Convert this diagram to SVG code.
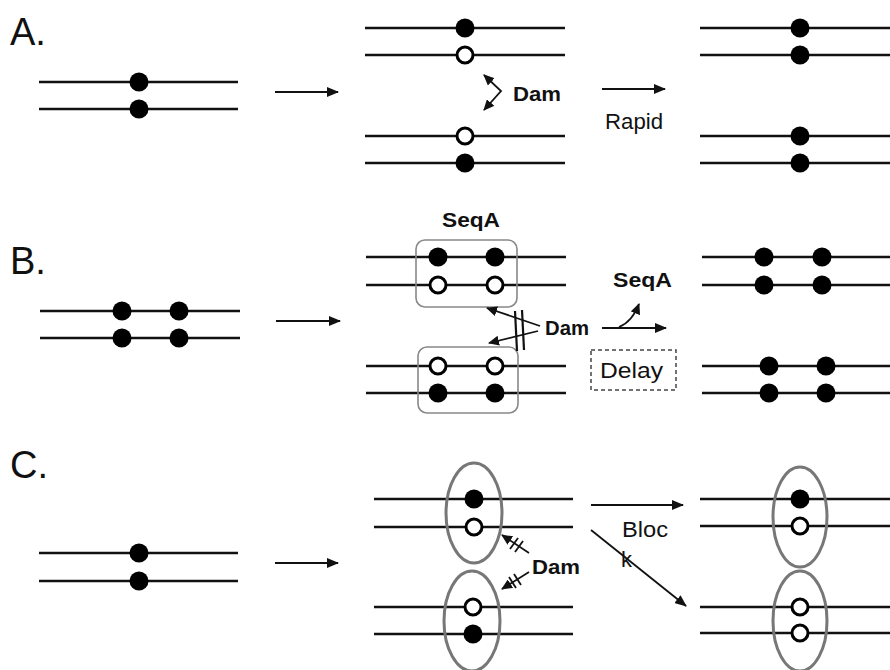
<svg xmlns="http://www.w3.org/2000/svg" width="890" height="670" viewBox="0 0 890 670">
<defs>
<marker id="ah" markerUnits="userSpaceOnUse" markerWidth="12" markerHeight="10" refX="11" refY="5" orient="auto-start-reverse"><path d="M0,0 L12,5 L0,10 Z" fill="#111"/></marker>
<marker id="as" markerUnits="userSpaceOnUse" markerWidth="11" markerHeight="10" refX="10" refY="5" orient="auto-start-reverse"><path d="M0,0 L11,5 L0,10 Z" fill="#111"/></marker>
</defs>
<style>
.s{stroke:#111;stroke-width:2.5;fill:none}
.f{fill:#000}
.o{fill:#fff;stroke:#000;stroke-width:3}
.c{stroke:#111;stroke-width:1.8;fill:none}
.tk{stroke:#111;stroke-width:1.8}
.t{font-family:"Liberation Sans",Arial,sans-serif;fill:#111}
.lab{font-size:38px}
.b{font-weight:bold;font-size:21px}
.r{font-size:22px}
.box{fill:none;stroke:#888;stroke-width:1.6}
.ell{fill:none;stroke:#777;stroke-width:3}
</style>
<rect width="890" height="670" fill="#fff"/>
<!-- labels -->
<text class="t lab" x="10" y="45">A.</text>
<text class="t lab" x="10" y="274">B.</text>
<text class="t lab" x="10" y="478">C.</text>

<!-- Panel A -->
<g id="a-left"><line class="s" x1="39" y1="82" x2="238" y2="82"/><line class="s" x1="39" y1="109" x2="238" y2="109"/><circle class="f" cx="139" cy="82" r="9.5"/><circle class="f" cx="139" cy="109" r="9.5"/></g>
<g id="a-mid-top"><line class="s" x1="365" y1="28" x2="565" y2="28"/><line class="s" x1="365" y1="55" x2="565" y2="55"/><circle class="f" cx="465" cy="28" r="9.5"/><circle class="o" cx="465" cy="55" r="8"/></g>
<g id="a-mid-bot"><line class="s" x1="365" y1="136" x2="565" y2="136"/><line class="s" x1="365" y1="163" x2="565" y2="163"/><circle class="o" cx="465" cy="136" r="8"/><circle class="f" cx="465" cy="163" r="9.5"/></g>
<g id="a-right-top"><line class="s" x1="700" y1="28" x2="890" y2="28"/><line class="s" x1="700" y1="55" x2="890" y2="55"/><circle class="f" cx="800" cy="28" r="9.5"/><circle class="f" cx="800" cy="55" r="9.5"/></g>
<g id="a-right-bot"><line class="s" x1="700" y1="136" x2="890" y2="136"/><line class="s" x1="700" y1="163" x2="890" y2="163"/><circle class="f" cx="800" cy="136" r="9.5"/><circle class="f" cx="800" cy="163" r="9.5"/></g>
<text class="t b" x="513" y="101" textLength="48" lengthAdjust="spacingAndGlyphs">Dam</text>
<text class="t r" x="605" y="129" textLength="58" lengthAdjust="spacingAndGlyphs">Rapid</text>

<!-- Panel B -->
<text class="t b" x="442" y="227" textLength="58" lengthAdjust="spacingAndGlyphs">SeqA</text>
<g id="b-left"><line class="s" x1="40" y1="311" x2="240" y2="311"/><line class="s" x1="40" y1="338" x2="240" y2="338"/><circle class="f" cx="122" cy="311" r="9.5"/><circle class="f" cx="179" cy="311" r="9.5"/><circle class="f" cx="122" cy="338" r="9.5"/><circle class="f" cx="179" cy="338" r="9.5"/></g>
<g id="b-mid-top"><line class="s" x1="366" y1="257" x2="566" y2="257"/><line class="s" x1="366" y1="285" x2="566" y2="285"/><circle class="f" cx="438" cy="257" r="9.5"/><circle class="f" cx="495" cy="257" r="9.5"/><circle class="o" cx="438" cy="285" r="8"/><circle class="o" cx="495" cy="285" r="8"/><rect class="box" x="416" y="240" width="101" height="67" rx="9"/></g>
<g id="b-mid-bot"><line class="s" x1="366" y1="366" x2="566" y2="366"/><line class="s" x1="366" y1="393" x2="566" y2="393"/><circle class="o" cx="438" cy="366" r="8"/><circle class="o" cx="495" cy="366" r="8"/><circle class="f" cx="438" cy="393" r="9.5"/><circle class="f" cx="495" cy="393" r="9.5"/><rect class="box" x="418" y="347" width="100" height="66" rx="9"/></g>
<g id="b-right-top"><line class="s" x1="702" y1="257" x2="890" y2="257"/><line class="s" x1="702" y1="285" x2="890" y2="285"/><circle class="f" cx="764" cy="257" r="9.5"/><circle class="f" cx="822" cy="257" r="9.5"/><circle class="f" cx="764" cy="285" r="9.5"/><circle class="f" cx="822" cy="285" r="9.5"/></g>
<g id="b-right-bot"><line class="s" x1="702" y1="366" x2="890" y2="366"/><line class="s" x1="702" y1="393" x2="890" y2="393"/><circle class="f" cx="769" cy="366" r="9.5"/><circle class="f" cx="826" cy="366" r="9.5"/><circle class="f" cx="769" cy="393" r="9.5"/><circle class="f" cx="826" cy="393" r="9.5"/></g>
<text class="t b" x="545" y="335" textLength="44" lengthAdjust="spacingAndGlyphs">Dam</text>
<text class="t b" x="613" y="287" textLength="59" lengthAdjust="spacingAndGlyphs">SeqA</text>
<g id="b-delay"><rect x="591" y="350" width="85" height="40" fill="none" stroke="#444" stroke-width="1.5" stroke-dasharray="4 3"/><text class="t r" x="600" y="378" textLength="63" lengthAdjust="spacingAndGlyphs">Delay</text></g>

<!-- Panel C -->
<g id="c-left"><line class="s" x1="39" y1="553" x2="238" y2="553"/><line class="s" x1="39" y1="581" x2="238" y2="581"/><circle class="f" cx="139" cy="553" r="9.5"/><circle class="f" cx="139" cy="581" r="9.5"/></g>
<g id="c-mid-top"><line class="s" x1="374" y1="499" x2="573" y2="499"/><line class="s" x1="374" y1="527" x2="573" y2="527"/><circle class="f" cx="474" cy="499" r="9.5"/><circle class="o" cx="474" cy="527" r="8"/><ellipse class="ell" cx="474" cy="513" rx="28" ry="50"/></g>
<g id="c-mid-bot"><line class="s" x1="374" y1="607" x2="573" y2="607"/><line class="s" x1="374" y1="634" x2="573" y2="634"/><circle class="o" cx="473" cy="607" r="8"/><circle class="f" cx="473" cy="634" r="9.5"/><ellipse class="ell" cx="472" cy="621" rx="28" ry="50"/></g>
<g id="c-right-top"><line class="s" x1="700" y1="499" x2="890" y2="499"/><line class="s" x1="700" y1="526" x2="890" y2="526"/><circle class="f" cx="800" cy="499" r="9.5"/><circle class="o" cx="800" cy="526" r="8"/><ellipse class="ell" cx="800" cy="517" rx="27" ry="50"/></g>
<g id="c-right-bot"><line class="s" x1="700" y1="607" x2="890" y2="607"/><line class="s" x1="700" y1="633" x2="890" y2="633"/><circle class="o" cx="800" cy="607" r="8"/><circle class="o" cx="800" cy="633" r="8"/><ellipse class="ell" cx="800" cy="621" rx="27" ry="50"/></g>
<text class="t b" x="532" y="574" textLength="48" lengthAdjust="spacingAndGlyphs">Dam</text>
<text class="t r" x="622" y="537" textLength="46" lengthAdjust="spacingAndGlyphs">Bloc</text>
<text class="t r" x="621" y="567">k</text>

<!-- connectors -->
<g id="connectors">
<line class="c" x1="275" y1="92" x2="338" y2="92" marker-end="url(#ah)"/>
<polyline class="c" points="484,75 501,91 484,110" stroke-width="1.6" marker-start="url(#as)" marker-end="url(#as)"/>
<line class="c" x1="602" y1="89" x2="665" y2="89" marker-end="url(#ah)"/>

<line class="c" x1="276" y1="321" x2="340" y2="321" marker-end="url(#ah)"/>
<line class="c" x1="540" y1="326" x2="487" y2="308" stroke-width="1.6" marker-end="url(#as)"/>
<line class="c" x1="538" y1="331" x2="489" y2="343" stroke-width="1.6" marker-end="url(#as)"/>
<line x1="515" y1="311" x2="517" y2="351" stroke="#111" stroke-width="2.2"/>
<line x1="522" y1="310" x2="524" y2="350" stroke="#111" stroke-width="2.2"/>
<line class="c" x1="602" y1="328" x2="666" y2="328" marker-end="url(#ah)"/>
<path class="c" d="M619,327 Q632,322 639,304" marker-end="url(#as)"/>

<line class="c" x1="275" y1="563" x2="338" y2="563" marker-end="url(#ah)"/>
<line class="c" x1="529" y1="553" x2="502" y2="535" stroke-width="1.8" marker-end="url(#as)"/>
<line class="tk" x1="510" y1="549" x2="518" y2="538"/>
<line class="tk" x1="515" y1="552" x2="523" y2="541"/>
<line class="c" x1="529" y1="572" x2="502" y2="589" stroke-width="1.8" marker-end="url(#as)"/>
<line class="tk" x1="509" y1="577" x2="516" y2="588"/>
<line class="tk" x1="514" y1="574" x2="521" y2="585"/>
<line class="c" x1="591" y1="505" x2="683" y2="505" marker-end="url(#ah)"/>
<line class="c" x1="591" y1="530" x2="686" y2="606" marker-end="url(#ah)"/>
</g>
</svg>
